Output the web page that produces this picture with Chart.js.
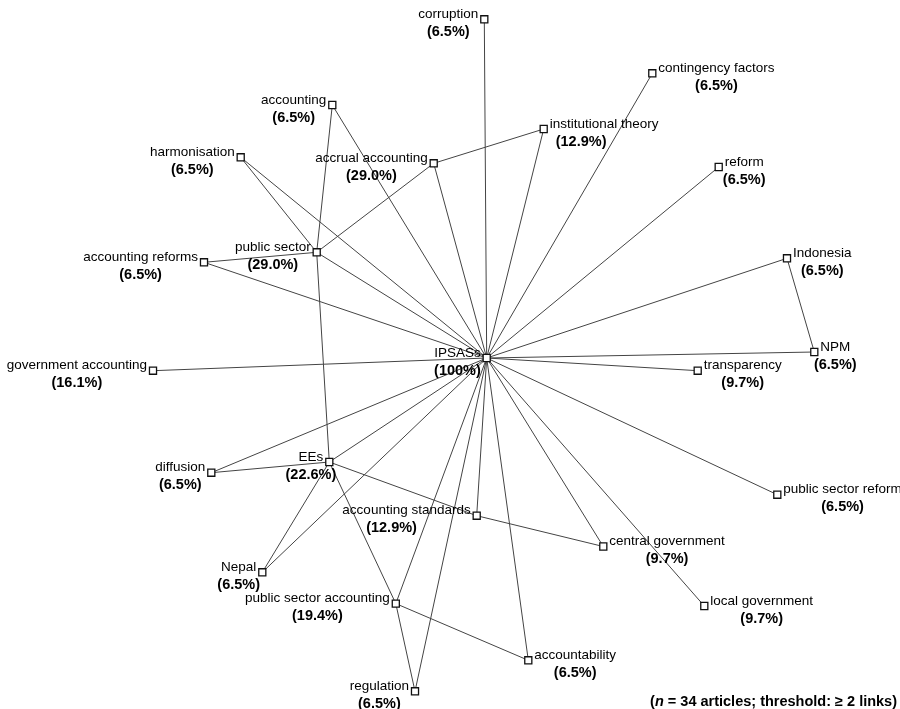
<!DOCTYPE html>
<html>
<head>
<meta charset="utf-8">
<script src="https://cdn.jsdelivr.net/npm/chart.js@4/dist/chart.umd.min.js"></script>
<style>
  html, body { margin: 0; padding: 0; background: #ffffff; }
  #wrap { width: 900px; height: 709px; position: relative; }
</style>
</head>
<body>
<div id="wrap"><canvas id="c"></canvas></div>
<script>
// ---- data: keyword co-occurrence network (layout coordinates + share of articles) ----
const nodeNames = [
  'IPSASs', 'corruption', 'contingency factors', 'accounting', 'institutional theory',
  'harmonisation', 'accrual accounting', 'reform', 'public sector', 'accounting reforms',
  'Indonesia', 'government accounting', 'NPM', 'transparency', 'diffusion', 'EEs',
  'public sector reform', 'accounting standards', 'central government', 'Nepal',
  'local government', 'public sector accounting', 'accountability', 'regulation'
];
const nodeX = [
  486.7, 484.3, 652.3, 332.3, 543.7,
  240.7, 433.7, 718.7, 316.7, 204.0,
  787.0, 153.0, 814.3, 697.7, 211.3, 329.3,
  777.3, 476.7, 603.3, 262.3,
  704.3, 395.8, 528.3, 415.0
];
const nodeY = [
  358.0, 19.3, 73.3, 105.0, 129.0,
  157.3, 163.3, 167.0, 252.3, 262.3,
  258.3, 370.7, 352.0, 370.7, 472.7, 462.0,
  494.7, 515.7, 546.5, 572.3,
  606.0, 603.6, 660.3, 691.3
];
const nodeShare = [
  100, 6.5, 6.5, 6.5, 12.9,
  6.5, 29.0, 6.5, 29.0, 6.5,
  6.5, 16.1, 6.5, 9.7, 6.5, 22.6,
  6.5, 12.9, 9.7, 6.5,
  9.7, 19.4, 6.5, 6.5
];
const edgeFrom = [
  'IPSASs','IPSASs','IPSASs','IPSASs','IPSASs','IPSASs','IPSASs','IPSASs','IPSASs','IPSASs',
  'IPSASs','IPSASs','IPSASs','IPSASs','IPSASs','IPSASs','IPSASs','IPSASs','IPSASs','IPSASs',
  'IPSASs','IPSASs','IPSASs',
  'Indonesia','accrual accounting','accrual accounting','public sector','public sector',
  'public sector','public sector','EEs','EEs','EEs','EEs',
  'public sector accounting','public sector accounting','accounting standards'
];
const edgeTo = [
  'corruption','contingency factors','accounting','institutional theory','harmonisation',
  'accrual accounting','reform','public sector','accounting reforms','Indonesia',
  'government accounting','NPM','transparency','diffusion','EEs','public sector reform',
  'accounting standards','central government','Nepal','local government',
  'public sector accounting','accountability','regulation',
  'NPM','institutional theory','public sector','accounting reforms','harmonisation',
  'accounting','EEs','diffusion','Nepal','public sector accounting','accounting standards',
  'regulation','accountability','central government'
];
const footnote = ['(', 'n', ' = 34 articles; threshold: \u2265 2 links)'];

// ---- presentation (label placement) ----
const labelSide = {
  'contingency factors':'R','institutional theory':'R','reform':'R','Indonesia':'R','NPM':'R',
  'transparency':'R','public sector reform':'R','central government':'R',
  'local government':'R','accountability':'R'
};
const pctShift = { 'institutional theory': -23, 'accounting standards': -15 };

const idx = name => nodeNames.indexOf(name);
const edgeDatasets = edgeFrom.map((a, i) => {
  const b = edgeTo[i];
  return {
    type: 'scatter',
    data: [{ x: nodeX[idx(a)], y: nodeY[idx(a)] }, { x: nodeX[idx(b)], y: nodeY[idx(b)] }],
    showLine: true,
    borderColor: '#444444',
    borderWidth: 1,
    pointRadius: 0,
    pointHoverRadius: 0,
    order: 1
  };
});
const nodeDataset = {
  type: 'scatter',
  data: nodeNames.map((n, i) => ({ x: nodeX[i], y: nodeY[i] })),
  pointStyle: 'rect',
  pointRadius: 5,
  pointHoverRadius: 5,
  pointBackgroundColor: '#ffffff',
  pointBorderColor: '#111111',
  pointBorderWidth: 1.3,
  showLine: false,
  order: 0
};

const labelPlugin = {
  id: 'nodeLabels',
  afterDatasetsDraw(chart) {
    const ctx = chart.ctx;
    const xs = chart.scales.x, ys = chart.scales.y;
    ctx.save();
    ctx.textBaseline = 'middle';
    nodeNames.forEach((name, i) => {
      const px = xs.getPixelForValue(nodeX[i]);
      const py = ys.getPixelForValue(nodeY[i]);
      ctx.font = '13.5px "Liberation Sans", Arial, sans-serif';
      ctx.fillStyle = '#000000';
      const w = ctx.measureText(name).width;
      const side = labelSide[name] || 'L';
      const x0 = side === 'L' ? px - 6 - w : px + 6;
      ctx.textAlign = 'left';
      ctx.fillText(name, x0, py - 5);
      const share = nodeShare[i];
      const pct = '(' + (share === 100 ? '100' : share.toFixed(1)) + '%)';
      ctx.font = 'bold 14.5px "Liberation Sans", Arial, sans-serif';
      ctx.textAlign = 'center';
      ctx.fillText(pct, x0 + w / 2 + (pctShift[name] || 0), py + 12.5);
    });
    // footnote
    const fy = 702;
    const fontB = 'bold 14.5px "Liberation Sans", Arial, sans-serif';
    const fontBI = 'italic bold 14.5px "Liberation Sans", Arial, sans-serif';
    ctx.textAlign = 'left';
    ctx.font = fontB; const w0 = ctx.measureText(footnote[0]).width;
    ctx.font = fontBI; const w1 = ctx.measureText(footnote[1]).width;
    ctx.font = fontB; const w2 = ctx.measureText(footnote[2]).width;
    let fx = 897 - (w0 + w1 + w2);
    ctx.font = fontB; ctx.fillText(footnote[0], fx, fy); fx += w0;
    ctx.font = fontBI; ctx.fillText(footnote[1], fx, fy); fx += w1;
    ctx.font = fontB; ctx.fillText(footnote[2], fx, fy);
    ctx.restore();
  }
};

new Chart(document.getElementById('c'), {
  type: 'scatter',
  data: { datasets: [nodeDataset, ...edgeDatasets] },
  options: {
    responsive: true,
    maintainAspectRatio: false,
    animation: false,
    layout: { padding: 0, autoPadding: false },
    scales: {
      x: { type: 'linear', min: 0, max: 900, display: false },
      y: { type: 'linear', min: 0, max: 709, reverse: true, display: false }
    },
    plugins: { legend: { display: false }, tooltip: { enabled: false } },
    events: []
  },
  plugins: [labelPlugin]
});
</script>
</body>
</html>
